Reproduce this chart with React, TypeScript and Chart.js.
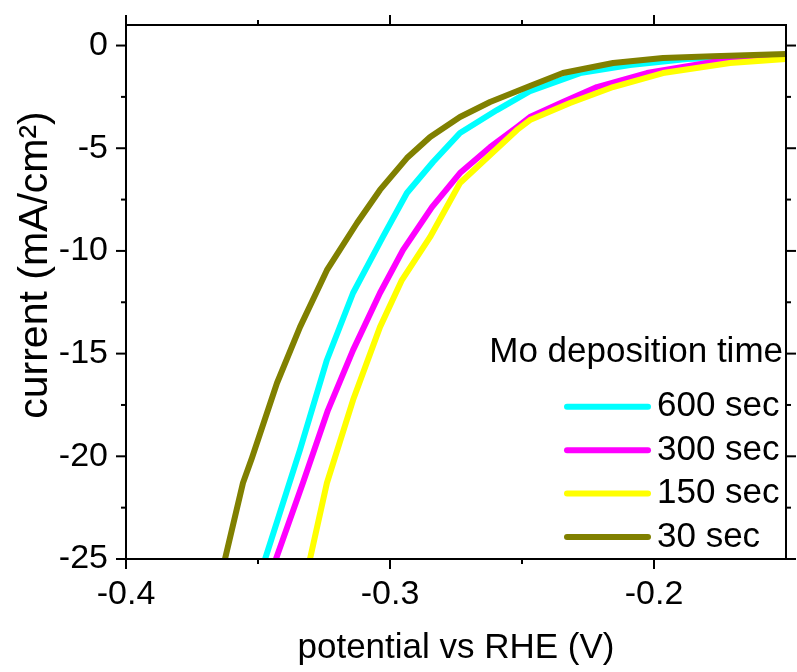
import React, { useEffect, useRef } from "react";
import { Chart, registerables } from "chart.js";

Chart.register(...registerables);

// ---- data ----
const seriesLabels = ["600 sec", "300 sec", "150 sec", "30 sec"];
const seriesColors = ["#00FFFF", "#FF00FF", "#FFFF00", "#808000"];

const potential600 = [-0.3473, -0.3341, -0.3239, -0.314, -0.3027, -0.2936, -0.2837, -0.2735, -0.2595, -0.247, -0.228, -0.2091, -0.1875, -0.15];
const current600 = [-25, -19.69, -15.31, -12.05, -9.32, -7.18, -5.67, -4.26, -3.14, -2.22, -1.34, -0.95, -0.66, -0.46];

const potential300 = [-0.3432, -0.333, -0.3235, -0.314, -0.3038, -0.2951, -0.2841, -0.2735, -0.2621, -0.2519, -0.247, -0.2345, -0.2216, -0.2027, -0.1777, -0.15];
const current300 = [-25, -21.3, -17.75, -14.83, -12.05, -9.96, -7.87, -6.21, -4.95, -3.97, -3.48, -2.75, -2.02, -1.34, -0.8, -0.56];

const potential150 = [-0.3303, -0.3239, -0.314, -0.3038, -0.2955, -0.2848, -0.2735, -0.2621, -0.2519, -0.247, -0.2318, -0.2155, -0.1966, -0.1712, -0.15];
const current150 = [-25, -21.3, -17.26, -13.71, -11.42, -9.32, -6.69, -5.33, -4.11, -3.63, -2.8, -2.02, -1.34, -0.85, -0.66];

const potential30 = [-0.3625, -0.3557, -0.3523, -0.3428, -0.3341, -0.3239, -0.3125, -0.3038, -0.2936, -0.2848, -0.2735, -0.2621, -0.247, -0.2345, -0.2155, -0.1966, -0.1777, -0.15];
const current30 = [-25, -21.3, -20.08, -16.43, -13.71, -10.94, -8.64, -7.03, -5.48, -4.45, -3.48, -2.75, -1.97, -1.34, -0.85, -0.61, -0.52, -0.41];

const xMajorTicks = [-0.4, -0.3, -0.2];
const xMinorTicks = [-0.35, -0.25];
const yMajorTicks = [0, -5, -10, -15, -20, -25];
const yMinorTicks = [-2.5, -7.5, -12.5, -17.5, -22.5];

const xTitle = "potential vs RHE (V)";
const yTitle = "current (mA/cm²)";
const legendTitle = "Mo deposition time";

const FONT = "'Liberation Sans', Arial, Helvetica, sans-serif";

const toPoints = (xs: number[], ys: number[]) => xs.map((x, i) => ({ x, y: ys[i] }));

const framePlugin = {
  id: "frameLegend",
  afterDatasetsDraw(chart: any) {
    const { ctx, chartArea: a, scales } = chart;
    const x = scales.x;
    const y = scales.y;
    ctx.save();
    ctx.strokeStyle = "#000";
    ctx.lineWidth = 2;
    ctx.lineCap = "butt";
    ctx.strokeRect(a.left, a.top, a.right - a.left, a.bottom - a.top);
    const seg = (x1: number, y1: number, x2: number, y2: number) => {
      ctx.beginPath();
      ctx.moveTo(x1, y1);
      ctx.lineTo(x2, y2);
      ctx.stroke();
    };
    const xTick = (v: number, len: number) => {
      const px = x.getPixelForValue(v);
      seg(px, a.bottom, px, a.bottom + len);
      seg(px, a.top, px, a.top - len);
    };
    const yTick = (v: number, len: number) => {
      const py = y.getPixelForValue(v);
      seg(a.left, py, a.left - len, py);
      seg(a.right, py, a.right + len, py);
    };
    xMajorTicks.forEach((v) => xTick(v, 10));
    xMinorTicks.forEach((v) => xTick(v, 5));
    yMajorTicks.forEach((v) => yTick(v, 10));
    yMinorTicks.forEach((v) => yTick(v, 5));

    // y-axis title
    ctx.save();
    ctx.translate(36, (a.top + a.bottom) / 2 - 27);
    ctx.rotate(-Math.PI / 2);
    ctx.fillStyle = "#000";
    ctx.font = `41px ${FONT}`;
    ctx.textAlign = "center";
    ctx.textBaseline = "middle";
    ctx.fillText(yTitle, 0, 0);
    ctx.restore();

    // legend
    const rowGap = 43.4;
    const rowY = (i: number) => a.bottom - 22 - (seriesLabels.length - 1 - i) * rowGap;
    ctx.fillStyle = "#000";
    ctx.textBaseline = "middle";
    ctx.font = `35px ${FONT}`;
    ctx.textAlign = "right";
    ctx.fillText(legendTitle, a.right - 3, rowY(0) - 54);
    ctx.textAlign = "left";
    const lineEnd = a.right - 138;
    seriesLabels.forEach((lab, i) => {
      const yy = rowY(i);
      ctx.strokeStyle = seriesColors[i];
      ctx.lineWidth = 6;
      ctx.lineCap = "round";
      seg(lineEnd - 81, yy, lineEnd, yy);
      ctx.fillText(lab, lineEnd + 9, yy);
    });
    ctx.restore();
  },
};

export default function App() {
  const ref = useRef<HTMLCanvasElement | null>(null);
  useEffect(() => {
    if (!ref.current) return;
    const seriesData = [
      toPoints(potential600, current600),
      toPoints(potential300, current300),
      toPoints(potential150, current150),
      toPoints(potential30, current30),
    ];
    // first dataset is drawn top-most -> olive on top
    const drawOrder = [3, 2, 1, 0];
    const chart = new Chart(ref.current, {
      type: "line",
      data: {
        datasets: drawOrder.map((i) => ({
          label: seriesLabels[i],
          data: seriesData[i],
          borderColor: seriesColors[i],
          backgroundColor: seriesColors[i],
          borderWidth: 6,
          borderJoinStyle: "round" as const,
          pointRadius: 0,
          tension: 0,
          fill: false,
        })),
      },
      options: {
        animation: false,
        responsive: false,
        devicePixelRatio: 1,
        parsing: false as any,
        layout: { padding: { top: 25, right: 11, left: 0, bottom: 0 } },
        plugins: { legend: { display: false }, tooltip: { enabled: false } },
        scales: {
          x: {
            type: "linear",
            min: -0.4,
            max: -0.15,
            afterBuildTicks: (s: any) => {
              s.ticks = xMajorTicks.map((v) => ({ value: v }));
            },
            afterFit: (s: any) => {
              s.height = 113;
              s.paddingLeft = 0;
              s.paddingRight = 0;
              s.paddingTop = 0;
              s.paddingBottom = 0;
            },
            grid: { display: false, drawTicks: false },
            border: { display: false },
            ticks: {
              color: "#000",
              font: { family: FONT, size: 34 },
              padding: 15,
              maxRotation: 0,
              autoSkip: false,
              callback: (v: any) => Number(v).toFixed(1),
            },
            title: {
              display: true,
              text: xTitle,
              color: "#000",
              font: { family: FONT, size: 35 },
              padding: { top: 0, bottom: 3 },
            },
          },
          y: {
            type: "linear",
            min: -25,
            max: 1,
            afterBuildTicks: (s: any) => {
              s.ticks = yMajorTicks.map((v) => ({ value: v }));
            },
            afterFit: (s: any) => {
              s.width = 126;
              s.paddingLeft = 0;
              s.paddingRight = 0;
              s.paddingTop = 0;
              s.paddingBottom = 0;
            },
            grid: { display: false, drawTicks: false },
            border: { display: false },
            ticks: {
              color: "#000",
              font: { family: FONT, size: 34 },
              padding: 18,
              autoSkip: false,
              callback: (v: any) => String(Math.round(Number(v))),
            },
          },
        },
      },
      plugins: [framePlugin],
    });
    return () => chart.destroy();
  }, []);
  return (
    <div style={{ position: "fixed", left: 0, top: 0, width: 797, height: 672, background: "#fff" }}>
      <canvas ref={ref} width={797} height={672} style={{ display: "block" }} />
    </div>
  );
}
